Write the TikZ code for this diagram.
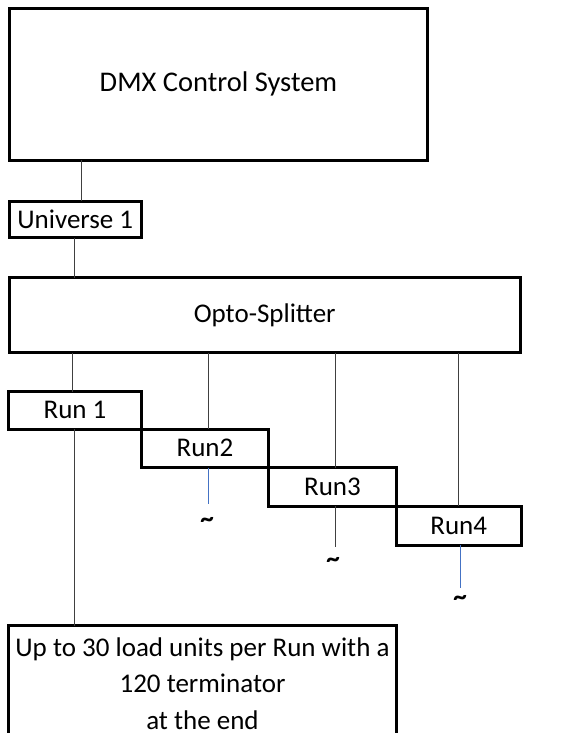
\documentclass[tikz,border=0pt]{standalone}
\usepackage{fontspec}
\setmainfont{Carlito}
\usetikzlibrary{positioning}
\definecolor{tailblue}{RGB}{68,114,196}

\begin{document}
\begin{tikzpicture}[x=1pt,y=-1pt,font=\fontsize{27}{36.5}\selectfont,
    box/.style={draw,line width=3pt,inner sep=0pt,outer sep=0pt,align=center},
    runbox/.style={box,anchor=north west,minimum height=38.5pt},
    wire/.style={draw=black!75,line width=0.9pt},
    tail/.style={draw=tailblue,line width=0.9pt},
    squiggle/.style={font=\fontsize{27}{27}\selectfont\bfseries,inner sep=0pt}]
	\useasboundingbox (0,0) rectangle (564,733);
	\clip (0,0) rectangle (564,733);
	% boxes
	\node[box,anchor=north west,minimum width=418pt,minimum height=151.5pt,font=\fontsize{28.5}{34}\selectfont] (dmx) at (9.5,8.5) {DMX Control System};
	\node[box,anchor=north west,minimum width=132.5pt,minimum height=36.5pt] (uni) at (9,201) {Universe 1};
	\node[box,anchor=north west,minimum width=511.5pt,minimum height=75pt] (opto) at (9,277.5) {Opto-Splitter};
	\node[runbox,minimum width=133pt,minimum height=37.5pt] (run1) at (8.5,391.5) {Run 1};
	\node[runbox,minimum width=127pt] (run2) at (run1.south east) {Run2};
	\node[runbox,minimum width=128pt] (run3) at (run2.south east) {Run3};
	\node[runbox,minimum width=124.5pt,minimum height=39pt] (run4) at (run3.south east) {Run4};
	\node[box,anchor=north west,minimum width=388pt,inner ysep=12pt] (load) at (8.5,625.5)
		{Up to 30 load units per Run with a\\120 terminator\\at the end};
	% tildes
	\node[squiggle] (sq2) at (207,522) {\textasciitilde};
	\node[squiggle] (sq3) at (333,562) {\textasciitilde};
	\node[squiggle] (sq4) at (460,600) {\textasciitilde};
	% taps
	\coordinate (xa) at (81.5,0);
	\coordinate (xb) at (74,0);
	\coordinate (x1) at (72,0);
	\coordinate (x2) at (208.5,0);
	\coordinate (x3) at (335,0);
	\coordinate (x4) at (458.5,0);
	\coordinate (e2) at (208.5,504);
	\coordinate (e3) at (335,547);
	\coordinate (e4) at (460,588);
	\draw[wire] (dmx.south -| xa) -- (uni.north -| xa);
	\draw[wire] (uni.south -| xb) -- (opto.north -| xb);
	\draw[wire] (opto.south -| x1) -- (run1.north -| x1);
	\draw[wire] (run1.south -| xb) -- (load.north -| xb);
	\draw[wire] (opto.south -| x2) -- (run2.north -| x2);
	\draw[tail] (run2.south -| e2) -- (e2);
	\draw[wire] (opto.south -| x3) -- (run3.north -| x3);
	\draw[wire] (run3.south -| e3) -- (e3);
	\draw[wire] (opto.south -| x4) -- (run4.north -| x4);
	\draw[tail] (run4.south -| e4) -- (e4);
\end{tikzpicture}
\end{document}
